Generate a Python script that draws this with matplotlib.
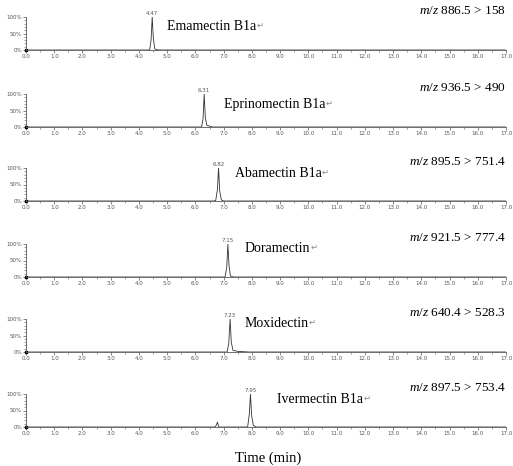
import numpy as np
import matplotlib
matplotlib.use("Agg")
import matplotlib.pyplot as plt
from matplotlib.ticker import MultipleLocator

plt.rcParams["mathtext.fontset"] = "custom"
plt.rcParams["mathtext.it"] = "Liberation Serif:italic"
plt.rcParams["mathtext.rm"] = "Liberation Serif"

# compound names, transitions, retention times
names = ["Emamectin B1a", "Eprinomectin B1a", "Abamectin B1a",
         "Doramectin", "Moxidectin", "Ivermectin B1a"]
transitions = ["886.5 > 158", "936.5 > 490", "895.5 > 751.4",
               "921.5 > 777.4", "640.4 > 528.3", "897.5 > 753.4"]
rts = [4.47, 6.31, 6.82, 7.15, 7.23, 7.95]

# chromatogram traces (time in min, relative abundance in %)
t_ema = [0.0, 4.38, 4.43, 4.47, 4.51, 4.56, 4.62, 4.75, 17.0]
y_ema = [0, 0, 30, 100, 35, 4, 1, 0, 0]
t_epr = [0.0, 6.22, 6.27, 6.31, 6.35, 6.40, 6.48, 6.60, 17.0]
y_epr = [0, 0, 25, 100, 30, 6, 3, 0, 0]
t_aba = [0.0, 6.65, 6.72, 6.78, 6.82, 6.86, 6.92, 7.00, 17.0]
y_aba = [0, 0, 2, 35, 100, 30, 3, 0, 0]
t_dor = [0.0, 7.05, 7.11, 7.15, 7.19, 7.24, 7.35, 17.0]
y_dor = [0, 0, 30, 100, 35, 3, 0, 0]
t_mox = [0.0, 7.12, 7.18, 7.23, 7.27, 7.33, 7.50, 7.90, 17.0]
y_mox = [0, 0, 25, 100, 30, 5, 2, 0, 0]
t_ive = [0.0, 6.68, 6.74, 6.78, 6.83, 7.85, 7.91, 7.95, 7.99, 8.05, 8.15, 17.0]
y_ive = [0, 0, 5, 15, 0, 0, 40, 100, 35, 5, 0, 0]

traces = [(t_ema, y_ema), (t_epr, y_epr), (t_aba, y_aba),
          (t_dor, y_dor), (t_mox, y_mox), (t_ive, y_ive)]

# where the compound name sits (min, %)
name_x = [5.0, 7.0, 7.4, 7.75, 7.75, 8.9]
name_y = [70, 67, 83, 86, 86, 82]

fig = plt.figure(figsize=(5.13, 4.66), dpi=100)

W, H = 513, 466
baselines = [50, 127, 201, 277, 352, 427]   # pixel row of 0% line
ax_h = 33

serif = ["Liberation Serif", "DejaVu Sans"]
grey = "#555555"

for i, (t, y) in enumerate(traces):
    b = baselines[i]
    ax = fig.add_axes([26 / W, 1 - b / H, 480 / W, ax_h / H])
    ax.plot(t, y, color="#333333", lw=0.6)
    ax.plot(t[0], y[0], "s", color="black", ms=1.8, clip_on=False)
    ax.set_xlim(0, 17)
    ax.set_ylim(0, 100)
    for s in ["top", "right"]:
        ax.spines[s].set_visible(False)
    for s in ["left", "bottom"]:
        ax.spines[s].set_color(grey)
        ax.spines[s].set_linewidth(0.6)
    ax.xaxis.set_major_locator(MultipleLocator(1))
    ax.xaxis.set_minor_locator(MultipleLocator(0.5))
    ax.yaxis.set_major_locator(MultipleLocator(50))
    ax.yaxis.set_minor_locator(MultipleLocator(10))
    ax.set_xticklabels([f"{v:.1f}" for v in ax.get_xticks()])
    ax.set_yticklabels([f"{int(v)}%" for v in ax.get_yticks()])
    ax.tick_params(which="major", length=2, width=0.5, color=grey,
                   labelsize=4, labelcolor="#555555", pad=1)
    ax.tick_params(which="minor", length=1.2, width=0.4, color=grey)

    # retention time label above the peak
    ax.text(rts[i], 103, f"{rts[i]:.2f}", fontsize=4, color="#555555",
            ha="center", va="bottom", clip_on=False)
    # compound name with a small paragraph mark after it
    nm = ax.text(name_x[i], name_y[i], names[i], family=serif,
                 fontsize=10, ha="left", va="center")
    ax.annotate("\u21b5", xy=(1, 0.6), xycoords=nm, fontsize=6,
                color="#888888", ha="left", va="center",
                family=["DejaVu Sans"])
    # MRM transition
    ax.text(17.0, 117, "$m/z$ " + transitions[i], family=serif,
            fontsize=9.5, ha="right", va="center", clip_on=False)

fig.text(268 / W, 1 - 458 / H, "Time (min)", family=serif, fontsize=10.5,
         ha="center", va="center")

fig.savefig("out.png", dpi=100)
